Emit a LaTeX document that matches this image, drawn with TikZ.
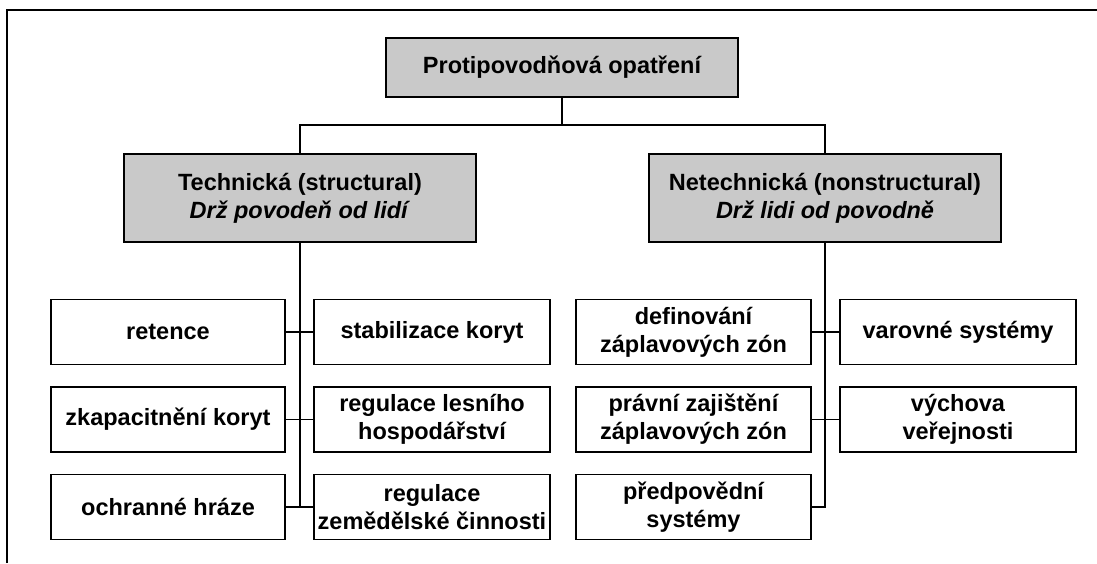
\documentclass[tikz,border=0pt]{standalone}
\usepackage{fontspec}
\setmainfont{Liberation Sans}
\usetikzlibrary{calc}
\definecolor{boxgray}{RGB}{201,201,201}
\newcommand{\boxcolor}{boxgray}
\newcommand{\thickness}{1.5pt}
\newcommand{\rowh}{65pt}
\tikzset{
  leaf/.style={draw, line width=\thickness, fill=white, inner sep=0pt, align=center,
    font=\fontsize{23.5}{28}\selectfont\bfseries, minimum height=\rowh},
  head/.style={leaf, fill=\boxcolor, minimum width=352pt},
  wire/.style={line width=1.2pt}
}

\begin{document}
\begin{tikzpicture}[x=1pt, y=1pt]
\useasboundingbox (0,0) rectangle (1097,-563);
% frame
\draw[line width=2pt] (7,-563) -- (7,-10) -- (1097,-10);
% heads
\node[head, minimum height=59pt] (0) at (562,-67.5) {Protipovodňová opatření};
\node[head, minimum height=88pt] (1) at (300,-198) {Technická (structural)\\\textit{Drž povodeň od lidí}};
\node[head, minimum height=88pt] (2) at (825,-198) {Netechnická (nonstructural)\\\textit{Drž lidi od povodně}};
\coordinate (bus) at (562,-125);
%1
\node[leaf, minimum width=234pt] (11) at (168,-332) {retence};
\node[leaf, minimum width=234pt] (12) at (168,-419.5) {zkapacitnění koryt};
\node[leaf, minimum width=234pt] (13) at (168,-507) {ochranné hráze};
\node[leaf, minimum width=236pt] (14) at (432,-332) {stabilizace koryt};
\node[leaf, minimum width=236pt] (15) at (432,-419.5) {regulace lesního\\hospodářství};
\node[leaf, minimum width=236pt] (16) at (432,-507) {regulace\\zemědělské činnosti};
%2
\node[leaf, minimum width=235pt] (21) at (693.5,-332) {definování\\záplavových zón};
\node[leaf, minimum width=235pt] (22) at (693.5,-419.5) {právní zajištění\\záplavových zón};
\node[leaf, minimum width=235pt] (23) at (693.5,-507) {předpovědní\\systémy};
\node[leaf, minimum width=236pt] (24) at (958,-332) {varovné systémy};
\node[leaf, minimum width=236pt] (25) at (958,-419.5) {výchova\\veřejnosti};
% wires
\draw[wire] (0) -- (bus);
\draw[wire] (1.north) |- (bus) -| (2.north);
\draw[wire] (1.south) -- (1.south |- 13.east);
\draw[wire] (11) -- (14);
\draw[wire] (12) -- (15);
\draw[wire] (13) -- (16);
\draw[wire] (2.south) |- (23.east);
\draw[wire] (21) -- (24);
\draw[wire] (22) -- (25);
\end{tikzpicture}
\end{document}
